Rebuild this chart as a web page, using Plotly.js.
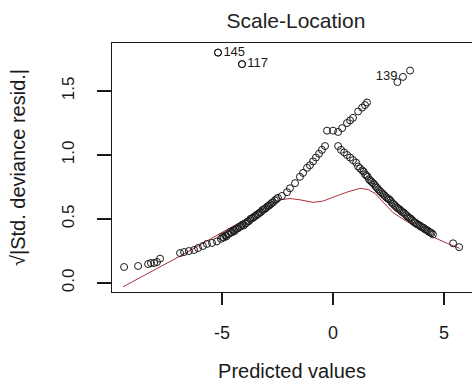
<!DOCTYPE html>
<html>
<head>
<meta charset="utf-8">
<script src="https://cdn.plot.ly/plotly-3.0.1.min.js"></script>
<style>html,body{margin:0;padding:0;overflow:hidden;background:#fff}</style>
</head>
<body>
<div id="chart" style="width:472px;height:392px;"></div>
<script>
// Ascending branch (outcome 0)
const xUp = [-9.41,-8.78,-8.33,-8.20,-8.06,-7.93,-7.79,-6.89,-6.71,-6.49,-6.26,-6.08,-5.86,-5.68,-5.45,-5.23,
  -5.05,-4.98,-4.92,-4.86,-4.80,-4.74,-4.68,-4.62,-4.56,-4.50,-4.44,-4.38,-4.32,-4.26,-4.20,-4.14,-4.08,-4.02,-3.96,-3.90,
  -3.84,-3.78,-3.72,-3.66,-3.60,-3.54,-3.48,-3.42,-3.36,-3.30,-3.24,-3.18,-3.12,-3.06,-3.00,-2.94,-2.88,-2.82,-2.76,-2.70,
  -2.62,-2.55,-2.48,-2.30,-2.07,-1.94,-1.71,-1.49,-1.35,-1.17,-1.04,-0.90,-0.77,-0.63,-0.50,-0.36,0.23,0.41,0.63,0.77,0.90,1.13,1.31,1.44,1.53];
const yUp = [0.125,0.133,0.148,0.156,0.156,0.164,0.19,0.234,0.242,0.25,0.258,0.273,0.289,0.305,0.313,0.325,
  0.345,0.36,0.355,0.37,0.365,0.38,0.385,0.40,0.395,0.41,0.405,0.42,0.425,0.43,0.44,0.445,0.455,0.45,0.465,0.47,
  0.48,0.485,0.50,0.505,0.51,0.52,0.525,0.535,0.54,0.55,0.555,0.57,0.575,0.58,0.59,0.60,0.605,0.615,0.625,0.63,
  0.645,0.655,0.665,0.68,0.71,0.74,0.78,0.83,0.86,0.90,0.92,0.95,0.98,1.01,1.04,1.07,1.18,1.21,1.25,1.27,1.29,1.34,1.37,1.39,1.41];
// Descending branch (outcome 1)
const xDown = [-0.27,0.0,0.23,0.36,0.50,0.63,0.77,0.90,1.04,1.13,1.22,
  1.31,1.38,1.44,1.50,1.56,1.62,1.68,1.74,1.80,1.86,1.92,1.98,2.04,2.10,2.16,2.22,2.28,2.34,2.40,2.46,2.52,2.58,2.64,2.70,
  2.76,2.82,2.88,2.94,3.00,3.06,3.12,3.18,3.24,3.30,3.36,3.42,3.48,3.54,3.60,3.66,3.72,3.78,3.84,3.90,3.96,4.02,4.08,4.14,
  4.20,4.26,4.32,4.38,4.44,4.50,5.41,5.68];
const yDown = [1.19,1.19,1.07,1.04,1.02,1.00,0.98,0.96,0.94,0.91,0.895,
  0.88,0.87,0.85,0.84,0.83,0.81,0.80,0.79,0.78,0.77,0.755,0.745,0.73,0.72,0.71,0.70,0.69,0.68,0.67,0.66,0.655,0.645,0.63,0.62,
  0.61,0.60,0.59,0.58,0.575,0.565,0.555,0.55,0.54,0.53,0.52,0.51,0.505,0.495,0.485,0.475,0.47,0.46,0.455,0.45,0.44,0.435,0.43,0.42,
  0.415,0.41,0.40,0.395,0.39,0.38,0.31,0.28];
// Outlying points
const xOut = [-5.18,-4.10,2.90,3.47];
const yOut = [1.80,1.71,1.57,1.66];
// Labelled points
const labRightX = [-5.18,-4.10];
const labRightY = [1.80,1.71];
const labRightText = ["145","117"];
const labLeftX = [3.15];
const labLeftY = [1.61];
const labLeftText = ["139"];
// Smoother
const xSmooth = [-9.46,-6.89,-4.64,-3.29,-2.39,-1.94,-1.49,-0.90,-0.45,0.0,0.63,1.22,1.58,1.89,2.70,3.60,4.50,5.14,5.72];
const ySmooth = [-0.03,0.21,0.43,0.56,0.65,0.66,0.65,0.63,0.64,0.67,0.71,0.74,0.73,0.70,0.55,0.45,0.36,0.31,0.27];

const xTicks = [-5,0,5];
const xTickText = ["-5","0","5"];
const yTicks = [0,0.5,1,1.5];
const yTickText = ["0.0","0.5","1.0","1.5"];

const FONT = "Liberation Sans, Arial, sans-serif";
const INK = '#1a1a1a';
const mk = {symbol:'circle-open', size:7, color:INK, line:{width:1, color:INK}};

const traces = [
  {x:xSmooth, y:ySmooth, mode:'lines', line:{color:'#b0303a', width:1}, hoverinfo:'skip'},
  {x:xUp, y:yUp, mode:'markers', marker:mk},
  {x:xDown, y:yDown, mode:'markers', marker:mk},
  {x:xOut, y:yOut, mode:'markers', marker:mk},
  {x:labRightX, y:labRightY, mode:'markers+text', text:labRightText, textposition:'middle right', marker:mk, textfont:{family:FONT,size:13,color:INK}},
  {x:labLeftX, y:labLeftY, mode:'markers+text', text:labLeftText, textposition:'middle left', marker:mk, textfont:{family:FONT,size:13,color:INK}}
];

const layout = {
  width:472, height:392,
  margin:{l:112, r:0, t:43, b:100},
  paper_bgcolor:'#fff', plot_bgcolor:'#fff',
  showlegend:false,
  font:{family:FONT, color:INK},
  title:{text:'Scale-Location', font:{family:FONT, size:21, color:'#222'}, x:0.627, xref:'container', xanchor:'center', y:0.948, yref:'container', yanchor:'middle'},
  xaxis:{range:[-9.955,6.26], showgrid:false, zeroline:false, showline:true, mirror:true, linecolor:INK, linewidth:1.3,
    ticks:'outside', ticklen:12, tickwidth:1.3, tickcolor:INK, tickvals:xTicks, ticktext:xTickText,
    tickfont:{family:FONT, size:18, color:INK}, ticklabelstandoff:12,
    title:{text:'Predicted values', font:{family:FONT, size:20, color:INK}, standoff:22}},
  yaxis:{range:[-0.0703,1.875], showgrid:false, zeroline:false, showline:true, mirror:false, linecolor:INK, linewidth:1.3,
    ticks:'outside', ticklen:14, tickwidth:1.3, tickcolor:INK, tickvals:yTicks, ticktext:yTickText, tickangle:-90,
    tickfont:{family:FONT, size:17, color:INK}, ticklabelstandoff:16,
    title:{text:'√|Std. deviance resid.|', font:{family:FONT, size:20, color:INK}, standoff:28}}
};

Plotly.newPlot('chart', traces, layout, {displayModeBar:false, staticPlot:true});
</script>
</body>
</html>
